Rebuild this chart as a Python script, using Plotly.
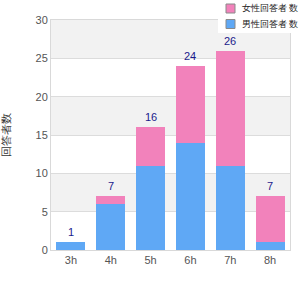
import plotly.graph_objects as go

categories = ["3h", "4h", "5h", "6h", "7h", "8h"]
blue_values = [1, 6, 11, 14, 11, 1]
pink_values = [0, 1, 5, 10, 15, 6]
totals = [b + p for b, p in zip(blue_values, pink_values)]
y_ticks = [0, 5, 10, 15, 20, 25, 30]
blue_name = "男性回答者 数"
pink_name = "女性回答者 数"
y_title = "回答者数"

BLUE = "#5fa8f5"
PINK = "#f282bb"

fig = go.Figure()
fig.add_trace(go.Bar(x=categories, y=blue_values, name=blue_name,
                     marker=dict(color=BLUE, line=dict(width=0))))
fig.add_trace(go.Bar(x=categories, y=pink_values, name=pink_name,
                     marker=dict(color=PINK, line=dict(width=0))))

for cat, tot in zip(categories, totals):
    fig.add_annotation(x=cat, y=tot, text=str(tot), showarrow=False,
                       xanchor="center", yanchor="bottom", yshift=2,
                       font=dict(color="#1a1a8c", size=11, family="Arial"))

for lo in [5, 15, 25]:
    fig.add_shape(type="rect", xref="paper", x0=0, x1=1, yref="y", y0=lo, y1=lo + 5,
                  fillcolor="#f2f2f2", line=dict(width=0), layer="below")

# manual legend (plot area: x 51..290 px, y 20..250 px)
L, R, T, B = 51, 290, 20, 250
def px(x):
    return (x - L) / (R - L)
def py(y):
    return (B - y) / (B - T)

fig.add_shape(type="rect", xref="paper", yref="paper", x0=px(218), x1=px(300),
              y0=py(33), y1=py(0), fillcolor="white", line=dict(width=0), layer="above")
for name, color, yc in [(pink_name, PINK, 8.5), (blue_name, BLUE, 24)]:
    fig.add_shape(type="rect", xref="paper", yref="paper", x0=px(226), x1=px(235),
                  y0=py(yc + 4.5), y1=py(yc - 4.5), fillcolor=color,
                  line=dict(color="#8a8a8a", width=1), layer="above")
    fig.add_annotation(xref="paper", yref="paper", x=px(240), y=py(yc), text=name,
                       showarrow=False, xanchor="left", yanchor="middle",
                       font=dict(size=8.5, color="#222222"))

fig.update_layout(
    width=300, height=300,
    margin=dict(l=L, r=300 - R, t=T, b=300 - B),
    barmode="stack", bargap=0.27,
    plot_bgcolor="white", paper_bgcolor="white",
    font=dict(family="Arial", size=11, color="#555555"),
    showlegend=False,
    xaxis=dict(showgrid=False, showline=True, linecolor="#d9d9d9", mirror=True,
               ticks="", automargin=False, tickfont=dict(size=11, color="#555555")),
    yaxis=dict(range=[0, 30], tickvals=y_ticks, showgrid=True, gridcolor="#dcdcdc",
               showline=True, linecolor="#d9d9d9", mirror=True, zeroline=False,
               ticks="", automargin=False, tickfont=dict(size=11, color="#555555"),
               title=dict(text=y_title, font=dict(size=11, color="#333333"), standoff=24)),
)

fig.write_html("out.html")
